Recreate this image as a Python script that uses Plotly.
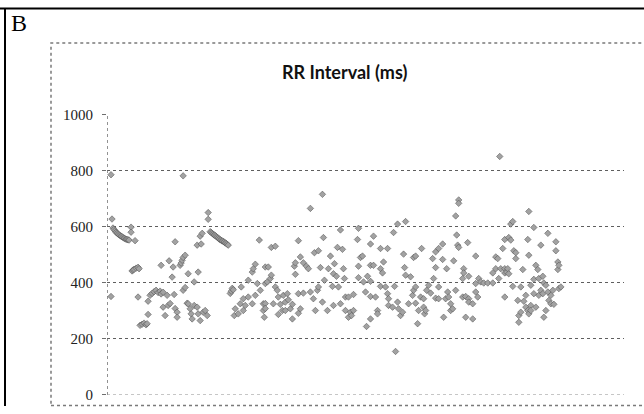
import plotly.graph_objects as go

# Beat index (sequence position) and the RR interval values read at each beat
beat_numbers = [
    4, 5, 6, 7, 8, 9, 10, 11, 12, 13, 14, 15, 16, 17, 18, 19, 20, 21, 22,
    24, 25, 26, 27, 28, 29, 31, 32, 33, 35, 37, 39, 40, 41, 43, 45, 47, 49,
    51, 53, 54, 56, 58, 60, 61, 62, 63, 65, 66, 67, 68, 70, 73, 74, 75, 76,
    78, 80, 81, 83, 84, 85, 87, 90, 91, 93, 94, 95, 96, 98, 100, 101,
    103, 104, 105, 106, 107, 108, 109, 110, 111, 112, 113, 114, 115, 116,
    117, 118, 119, 120, 121,
    123, 124, 125, 126, 127, 128, 131, 133, 134, 136, 138, 141, 145, 146,
    148, 150, 152, 153, 156, 157, 158, 160, 161, 163, 164, 166, 168, 170,
    171, 173, 175, 176, 178, 180, 181, 183, 185, 187, 188, 191, 193, 196,
    199, 201, 203, 206, 207, 208, 210, 211, 213, 215, 216, 217, 220, 221,
    223, 225, 226, 227, 229, 230, 231, 233, 235, 236, 237, 238, 241, 243,
    244, 246, 250, 251, 253, 255, 256, 258, 259, 260, 263, 266, 268, 270,
    273, 275, 276, 278, 280, 281, 285, 286, 287, 288, 290, 291, 293, 295,
    296, 297, 298, 301, 303, 305, 306, 308, 310, 311, 313, 314, 316, 317,
    318, 319, 321, 323, 325, 326, 328, 331, 335, 336, 338, 339, 340, 341,
    343, 345, 346, 348, 349, 350, 351, 355, 356, 358, 360, 361, 365, 368,
    370, 371, 373, 376, 380, 385, 388, 390, 391, 392, 393, 395, 397, 399,
    400, 401, 403, 405, 406, 408, 410, 411, 413, 415, 416, 418, 420, 421,
    423, 426, 428, 430, 431, 433, 435, 436, 438, 440, 441, 443, 445, 446,
    448, 450, 451, 453,
]

rr_at_beat = [
    [785, 351], [627], [595], [590], [585], [580], [577], [574], [571], [568],
    [566], [564], [561], [559], [557], [555], [554], [553], [552],
    [598, 580], [442], [445], [448], [550], [452], [455, 349], [450], [248],
    [252], [256], [250], [254], [334, 287], [355], [362], [368], [373],
    [365], [370], [360, 462], [366, 313], [283], [355], [319], [478], [326],
    [420], [456], [358], [546, 308], [295, 277], [462], [470], [480],
    [490, 781, 373], [498, 383], [327], [325, 432], [307], [289], [271],
    [319, 403], [534, 313], [289, 438], [265, 566], [538], [576], [295],
    [301], [283], [650, 626],
    [582], [579], [576], [573], [570], [568], [565], [562], [559], [556],
    [553], [551], [549], [547], [545], [542], [540], [537], [534],
    [362], [370], [380], [375], [283], [307], [289], [325], [385],
    [343, 301], [319], [349, 409], [325, 438], [450], [355, 466], [397],
    [552], [373], [325, 301], [277], [456, 326, 308, 397], [403], [456],
    [415], [427, 526], [325], [385, 530], [373], [349, 287], [323], [301],
    [355], [331, 301], [361], [339], [307], [323, 271], [459], [471, 430],
    [361, 291, 550], [492, 307], [471, 363], [459], [450], [665, 367],
    [343], [507], [301], [373], [385, 514], [454], [715, 331], [561], [409],
    [301], [450], [495], [387], [432, 319], [468], [423], [526], [385],
    [588, 325], [519], [450], [415], [301, 349], [349, 277], [295], [283],
    [358, 301], [554], [594, 459, 418], [490], [495], [403], [367], [244],
    [423], [462, 538, 405, 351, 271], [566, 462], [349], [301, 289],
    [522, 450, 387], [435], [474], [385], [522, 361], [343, 319], [313],
    [579], [387], [155], [609, 331], [307], [283], [295], [502], [454],
    [618, 427], [325], [421], [355], [490, 373], [495, 385, 327], [254],
    [301], [349], [522], [343, 313], [289], [301], [373], [391], [363],
    [486], [415], [510, 454, 345], [522, 385, 343], [538, 483], [277],
    [343], [450], [367], [349], [325, 301], [307], [478], [638, 373], [570],
    [534], [695, 683, 526], [415, 349], [450, 435], [351, 277], [543],
    [423, 343, 331], [325, 271], [495, 397, 367], [349], [415], [403], [399],
    [399], [399, 435], [450, 492], [486], [415], [850], [450], [522],
    [554, 450, 435, 349], [438], [450], [561, 432], [552, 609], [618, 387],
    [514], [507, 486], [337], [283, 259], [385, 295], [447], [334],
    [355, 313], [554, 301], [654, 498, 289], [391, 319, 301],
    [597, 412, 361], [462, 313], [447], [415, 355], [534, 373], [423, 361],
    [399, 277], [391, 301], [576, 367], [337], [355, 325], [373], [323],
    [546, 514], [474, 447], [462, 379], [385],
]

y_ticks = [0, 200, 400, 600, 800, 1000]
chart_title = "RR Interval (ms)"
panel_label = "B"

xs, ys = [], []
for b, vals in zip(beat_numbers, rr_at_beat):
    for v in vals:
        xs.append(b)
        ys.append(v)

W, H = 644, 414


def px(x):
    return x / W


def py(y):
    # vertical layout position (pixels from top), corrected for page offset
    yf = (y - 7.2) / 0.956
    yf = min(max(yf, 0.5), H - 0.5)
    return (H - yf) / H


fig = go.Figure()
fig.add_trace(go.Scatter(
    x=xs, y=ys, mode="markers",
    marker=dict(symbol="diamond", size=5, color="#a2a2a2",
                line=dict(color="#4a4a4a", width=0.5)),
    hoverinfo="skip", showlegend=False,
))

fig.update_layout(
    width=W, height=H,
    margin=dict(l=0, r=0, t=0, b=0),
    paper_bgcolor="white", plot_bgcolor="white",
    xaxis=dict(domain=[px(107), px(624)], range=[0, 516],
               showgrid=False, zeroline=False, showticklabels=False,
               showline=False, ticks=""),
    yaxis=dict(domain=[py(392), py(113)], range=[0, 1000],
               tickvals=y_ticks, ticktext=[str(v) for v in y_ticks],
               showgrid=True, gridcolor="#5e5e5e", griddash="dot", gridwidth=1,
               zeroline=False, showline=False,
               ticks="outside", ticklen=4, tickcolor="#6e6e6e",
               ticklabelstandoff=6,
               tickfont=dict(family="Liberation Serif", size=15, color="#222")),
    shapes=[
        # outer frame
        dict(type="line", xref="paper", yref="paper", x0=0, x1=1,
             y0=py(5), y1=py(5), line=dict(color="black", width=2)),
        dict(type="line", xref="paper", yref="paper", x0=px(5), x1=px(5),
             y0=py(5), y1=0, line=dict(color="black", width=2)),
        # chart area border (dotted)
        dict(type="rect", xref="paper", yref="paper", x0=px(51), x1=1.02,
             y0=py(411), y1=py(42), line=dict(color="#7a7a7a", width=1.5, dash="dot")),
        # y axis line
        dict(type="line", xref="x", yref="y", x0=0, x1=0, y0=0, y1=1000,
             line=dict(color="#6e6e6e", width=1.5, dash="dot")),
        dict(type="line", xref="x", yref="y", x0=0, x1=516, y0=0, y1=0,
             line=dict(color="#9a9a9a", width=1, dash="dot")),
    ],
    annotations=[
        dict(text=panel_label, xref="paper", yref="paper", x=px(19), y=py(22),
             showarrow=False, xanchor="center", yanchor="middle",
             font=dict(family="Liberation Serif", size=24, color="black")),
        dict(text="<b>" + chart_title + "</b>", xref="paper", yref="paper",
             x=px(344), y=py(71), showarrow=False, xanchor="center", yanchor="middle",
             font=dict(family="Lato", size=18, color="#111")),
    ],
)

fig.write_html("out.html")
